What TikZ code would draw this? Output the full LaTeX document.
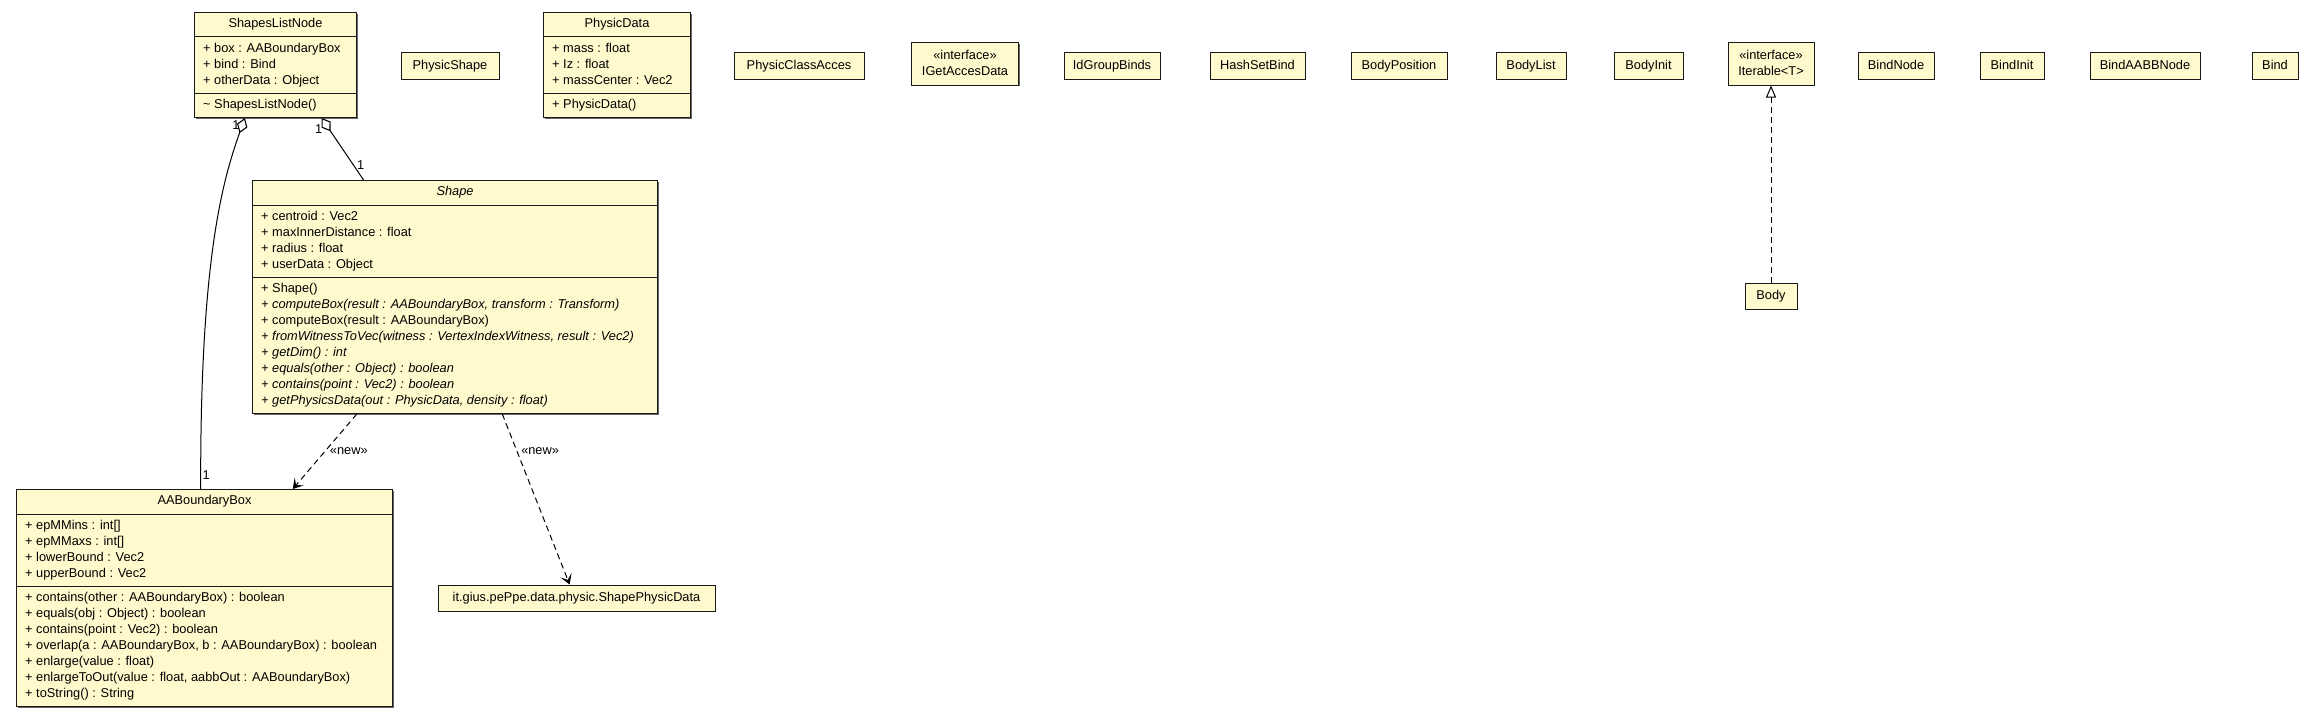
\documentclass[tikz,border=0pt]{standalone}
\usepackage{fontspec}
\setmainfont{Liberation Sans}
\usetikzlibrary{arrows.meta,shadows}
\definecolor{umlfill}{RGB}{255,250,205}
\newcommand{\umlfont}{\fontsize{12.8}{16}\selectfont}
\newcommand{\memberlist}[1]{\begin{tabular}{@{}l@{}}#1\end{tabular}}
\newcommand{\stereolist}[1]{\begin{tabular}{@{}c@{}}#1\end{tabular}}

\begin{document}
\begin{tikzpicture}[x=1pt,y=-1pt,
		umlbox/.style={draw=black!90, fill=umlfill, line width=1pt, inner sep=0pt, font=\umlfont,
			drop shadow={shadow xshift=1.2pt, shadow yshift=-1.2pt, fill=black!60, opacity=1}},
		classbox/.style={umlbox, text height=9pt, text depth=2.5pt},
		title/.style={inner sep=0pt, font=\umlfont, text height=9pt, text depth=2.5pt},
		members/.style={anchor=north west, inner sep=0pt, font=\umlfont},
		sep/.style={draw=black!90, line width=1pt},
		mult/.style={inner sep=0pt, font=\umlfont},
		stereo/.style={inner xsep=4pt, inner ysep=0pt, font=\umlfont, anchor=west},
		agg/.style={line width=1pt, {Diamond[length=16pt, width=11pt, fill=white, line width=1.1pt]}-},
		dep/.style={line width=1pt, dash pattern=on 6pt off 4pt, -{Stealth[length=10pt, width=12pt, inset=5pt]}},
		real/.style={line width=1pt, dash pattern=on 6pt off 4pt, -{Triangle[length=12pt, width=10pt, fill=white, line width=1pt]}}]
	\useasboundingbox (0,0) rectangle (2317,717);

	% classes with members
	\node [umlbox, anchor=north west, minimum width=162pt, minimum height=105pt] (sln) at (194,12) {};
	\draw [sep] ([yshift=-25pt]sln.north west) -- ([yshift=-25pt]sln.north east);
	\draw [sep] ([yshift=-81pt]sln.north west) -- ([yshift=-81pt]sln.north east);
	\node [title] (slnname) at ([yshift=-12.5pt]sln.north) {ShapesListNode};
	\node [members] (slnattr) at ([xshift=9pt, yshift=-29.4pt]sln.north west) {\memberlist{+ box : AABoundaryBox\\ + bind : Bind\\ + otherData : Object}};
	\node [members] (slnops) at ([xshift=9pt, yshift=-85.4pt]sln.north west) {\memberlist{\textasciitilde{} ShapesListNode()}};

	\node [umlbox, anchor=north west, minimum width=147pt, minimum height=105pt] (pdata) at (543,12) {};
	\draw [sep] ([yshift=-25pt]pdata.north west) -- ([yshift=-25pt]pdata.north east);
	\draw [sep] ([yshift=-81pt]pdata.north west) -- ([yshift=-81pt]pdata.north east);
	\node [title] (pdataname) at ([yshift=-12.5pt]pdata.north) {PhysicData};
	\node [members] (pdataattr) at ([xshift=9pt, yshift=-29.4pt]pdata.north west) {\memberlist{+ mass : float\\ + Iz : float\\ + massCenter : Vec2}};
	\node [members] (pdataops) at ([xshift=9pt, yshift=-85.4pt]pdata.north west) {\memberlist{+ PhysicData()}};

	\node [umlbox, anchor=north west, minimum width=405pt, minimum height=233pt] (shape) at (252,180) {};
	\draw [sep] ([yshift=-25pt]shape.north west) -- ([yshift=-25pt]shape.north east);
	\draw [sep] ([yshift=-97pt]shape.north west) -- ([yshift=-97pt]shape.north east);
	\node [title] (shapename) at ([yshift=-12.5pt]shape.north) {\textit{Shape}};
	\node [members] (shapeattr) at ([xshift=9pt, yshift=-29.4pt]shape.north west) {\memberlist{+ centroid : Vec2\\ + maxInnerDistance : float\\ + radius : float\\ + userData : Object}};
	\node [members] (shapeops) at ([xshift=9pt, yshift=-101.4pt]shape.north west) {\memberlist{+ Shape()\\
		\textit{+ computeBox(result : AABoundaryBox, transform : Transform)}\\
		+ computeBox(result : AABoundaryBox)\\
		\textit{+ fromWitnessToVec(witness : VertexIndexWitness, result : Vec2)}\\
		\textit{+ getDim() : int}\\
		\textit{+ equals(other : Object) : boolean}\\
		\textit{+ contains(point : Vec2) : boolean}\\
		\textit{+ getPhysicsData(out : PhysicData, density : float)}}};

	\node [umlbox, anchor=north west, minimum width=376pt, minimum height=217pt] (aabb) at (16,489) {};
	\draw [sep] ([yshift=-25pt]aabb.north west) -- ([yshift=-25pt]aabb.north east);
	\draw [sep] ([yshift=-97pt]aabb.north west) -- ([yshift=-97pt]aabb.north east);
	\node [title] (aabbname) at ([yshift=-12.5pt]aabb.north) {AABoundaryBox};
	\node [members] (aabbattr) at ([xshift=9pt, yshift=-29.4pt]aabb.north west) {\memberlist{+ epMMins : int[]\\ + epMMaxs : int[]\\ + lowerBound : Vec2\\ + upperBound : Vec2}};
	\node [members] (aabbops) at ([xshift=9pt, yshift=-101.4pt]aabb.north west) {\memberlist{+ contains(other : AABoundaryBox) : boolean\\
		+ equals(obj : Object) : boolean\\
		+ contains(point : Vec2) : boolean\\
		+ overlap(a : AABoundaryBox, b : AABoundaryBox) : boolean\\
		+ enlarge(value : float)\\
		+ enlargeToOut(value : float, aabbOut : AABoundaryBox)\\
		+ toString() : String}};

	% plain classes
	\foreach \nm/\cx/\w/\txt in {physhape/450/98/PhysicShape, classacces/799/130/PhysicClassAcces,
			idgroup/1112/96/IdGroupBinds, hashset/1257.5/95/HashSetBind, bodypos/1399/96/BodyPosition,
			bodylist/1531/70/BodyList, bodyinit/1648.5/69/BodyInit, bindnode/1896/76/BindNode,
			bindinit/2012/64/BindInit, bindaabb/2145/110/BindAABBNode, bind/2275/46/Bind}
		\node [classbox, minimum width=\w pt, minimum height=26pt] (\nm) at (\cx,66) {\txt};
	\node [classbox, minimum width=52pt, minimum height=26pt] (body) at (1771,296) {Body};
	\node [classbox, minimum width=277pt, minimum height=26pt] (spd) at (576.5,598) {it.gius.pePpe.data.physic.ShapePhysicData};

	% interfaces
	\node [umlbox, minimum width=107pt, minimum height=42pt] (igetacces) at (965,64) {\stereolist{«interface»\\ IGetAccesData}};
	\node [umlbox, minimum width=86pt, minimum height=42pt] (iterable) at (1771,64) {\stereolist{«interface»\\ Iterable<T>}};

	% relations
	\draw [agg] (sln.-120) .. controls (222,182) and (200,262) .. (aabb.92);
	\node [mult] (m1) at ([xshift=-9pt, yshift=-7pt]sln.-120) {1};
	\node [mult] (m2) at ([xshift=5.5pt, yshift=14pt]aabb.92) {1};
	\draw [agg] (sln.-49) -- (shape.128);
	\node [mult] (m3) at ([xshift=-3pt, yshift=-11pt]sln.-49) {1};
	\node [mult] (m4) at ([xshift=-3pt, yshift=15pt]shape.128) {1};
	\draw [dep] (shape.-130) -- node [stereo, pos=0.49] (new1) {«new»} (aabb.51);
	\draw [dep] (shape.-68) -- node [stereo, pos=0.215] (new2) {«new»} (spd.117);
	\draw [real] (body.north) -- (iterable.south);
\end{tikzpicture}
\end{document}
